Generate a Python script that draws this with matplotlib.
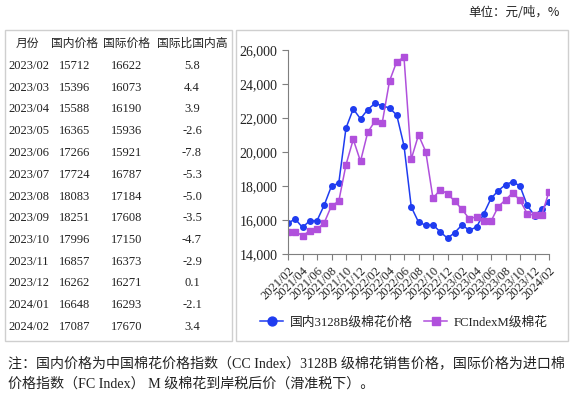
import matplotlib
matplotlib.use("Agg")
from matplotlib import pyplot as plt
from matplotlib.patches import Rectangle
import numpy as np
import pandas as pd

# month labels for the chart (2021/02 .. 2024/02)
months = [p.strftime("%Y/%m") for p in pd.period_range("2021-02", "2024-02", freq="M")]

# domestic price (CC Index 3128B), yuan/ton
domestic = [15820, 16060, 15560, 15960, 15960, 16880, 18000, 18160, 21410, 22530,
            21950, 22500, 22860, 22720, 22590, 22170, 20370, 16770, 15880, 15690,
            15720, 15300, 14930, 15260,
            15712, 15396, 15588, 16365, 17266, 17724, 18083, 18251, 17996, 16857,
            16262, 16648, 17087]
# international price (FC Index M), yuan/ton
international = [15320, 15320, 15080, 15350, 15450, 15840, 16840, 17100, 19250, 20740,
                 19450, 21160, 21820, 21720, 24170, 25320, 25570, 19580, 21000, 20020,
                 17270, 17790, 17540, 17110,
                 16622, 16073, 16190, 15936, 15921, 16787, 17184, 17608, 17150, 16373,
                 16271, 16293, 17670]

# table data
table_months = ["2023/02", "2023/03", "2023/04", "2023/05", "2023/06", "2023/07",
                "2023/08", "2023/09", "2023/10", "2023/11", "2023/12", "2024/01", "2024/02"]
table_dom = [15712, 15396, 15588, 16365, 17266, 17724, 18083, 18251, 17996, 16857,
             16262, 16648, 17087]
table_int = [16622, 16073, 16190, 15936, 15921, 16787, 17184, 17608, 17150, 16373,
             16271, 16293, 17670]
table_gap = ["5.8", "4.4", "3.9", "-2.6", "-7.8", "-5.3", "-5.0", "-3.5", "-4.7",
             "-2.9", "0.1", "-2.1", "3.4"]
headers = ["月份", "国内价格", "国际价格", "国际比国内高"]

W, H = 574, 395
serif_cjk = ["Liberation Serif", "Noto Sans CJK SC"]
cjk = ["Noto Sans CJK SC", "DejaVu Sans"]
blue = "#1f3cf0"
purple = "#b050dc"

fig = plt.figure(figsize=(W / 100, H / 100), dpi=100)


def fx(px):
    return px / W


def fy(py):
    return 1 - py / H


# boxes around table and chart
for (x0, y0, x1, y1) in [(5, 30, 232, 341), (236, 30, 568, 341)]:
    fig.patches.append(Rectangle((fx(x0), fy(y1)), fx(x1 - x0), (y1 - y0) / H,
                                 transform=fig.transFigure, fill=False,
                                 edgecolor="#cfcfcf", linewidth=1.0))

# unit text
fig.text(fx(560), fy(12), "单位：元/吨，%", ha="right", va="center",
         fontsize=9, family=cjk, color="#222222")

# table
col_x = [27, 75, 127, 192]
for x, h in zip(col_x, headers):
    fig.text(fx(x), fy(43), h, ha="center", va="center", fontsize=8.5,
             family=cjk, color="#222222")
for i in range(len(table_months)):
    y = fy(66 + i * 21.75)
    fig.text(fx(8), y, table_months[i], ha="left", va="center", fontsize=9,
             family="Liberation Serif", color="#222222")
    fig.text(fx(col_x[1]), y, str(table_dom[i]), ha="center", va="center",
             fontsize=9, family="Liberation Serif", color="#222222")
    fig.text(fx(col_x[2]), y, str(table_int[i]), ha="center", va="center",
             fontsize=9, family="Liberation Serif", color="#222222")
    fig.text(fx(col_x[3]), y, table_gap[i], ha="center", va="center",
             fontsize=9, family="Liberation Serif", color="#222222")

# chart
ax = fig.add_axes([fx(288), fy(254), fx(549 - 288), (254 - 50) / H])
x = np.arange(len(months))
ax.plot(x, domestic, color=blue, marker="o", markersize=4, linewidth=1.1,
        label="国内3128B级棉花价格")
ax.plot(x, international, color=purple, marker="s", markersize=4, linewidth=1.1,
        label="FCIndexM级棉花")
ax.set_xlim(0, len(months) - 1)
ax.set_ylim(14000, 26000)
ax.set_yticks(np.arange(14000, 26001, 2000))
ax.set_yticklabels([f"{v:,}" for v in range(14000, 26001, 2000)],
                   family="Liberation Serif", fontsize=10)
ax.set_xticks(x[::2])
ax.set_xticklabels(months[::2], rotation=45, ha="right", rotation_mode="anchor",
                   family="Liberation Serif", fontsize=9)
for s in ["top", "right"]:
    ax.spines[s].set_visible(False)
for s in ["left", "bottom"]:
    ax.spines[s].set_color("#7f7f7f")
ax.tick_params(axis="both", colors="#7f7f7f", labelcolor="#222222", length=4)

leg = fig.legend(loc="center", bbox_to_anchor=(fx(404), fy(322)), ncol=2,
                 frameon=False, markerscale=1.6, handlelength=1.8,
                 handletextpad=0.5, columnspacing=0.9,
                 prop={"family": serif_cjk, "size": 9.2})
for t in leg.get_texts():
    t.set_color("#222222")

# note
fig.text(fx(8), fy(363), "注：国内价格为中国棉花价格指数（CC Index）3128B 级棉花销售价格，国际价格为进口棉",
         ha="left", va="center", fontsize=10.1, family=serif_cjk, color="#222222")
fig.text(fx(8), fy(384), "价格指数（FC Index） M 级棉花到岸税后价（滑准税下）。",
         ha="left", va="center", fontsize=10.1, family=serif_cjk, color="#222222")

fig.savefig("out.png", dpi=100)
